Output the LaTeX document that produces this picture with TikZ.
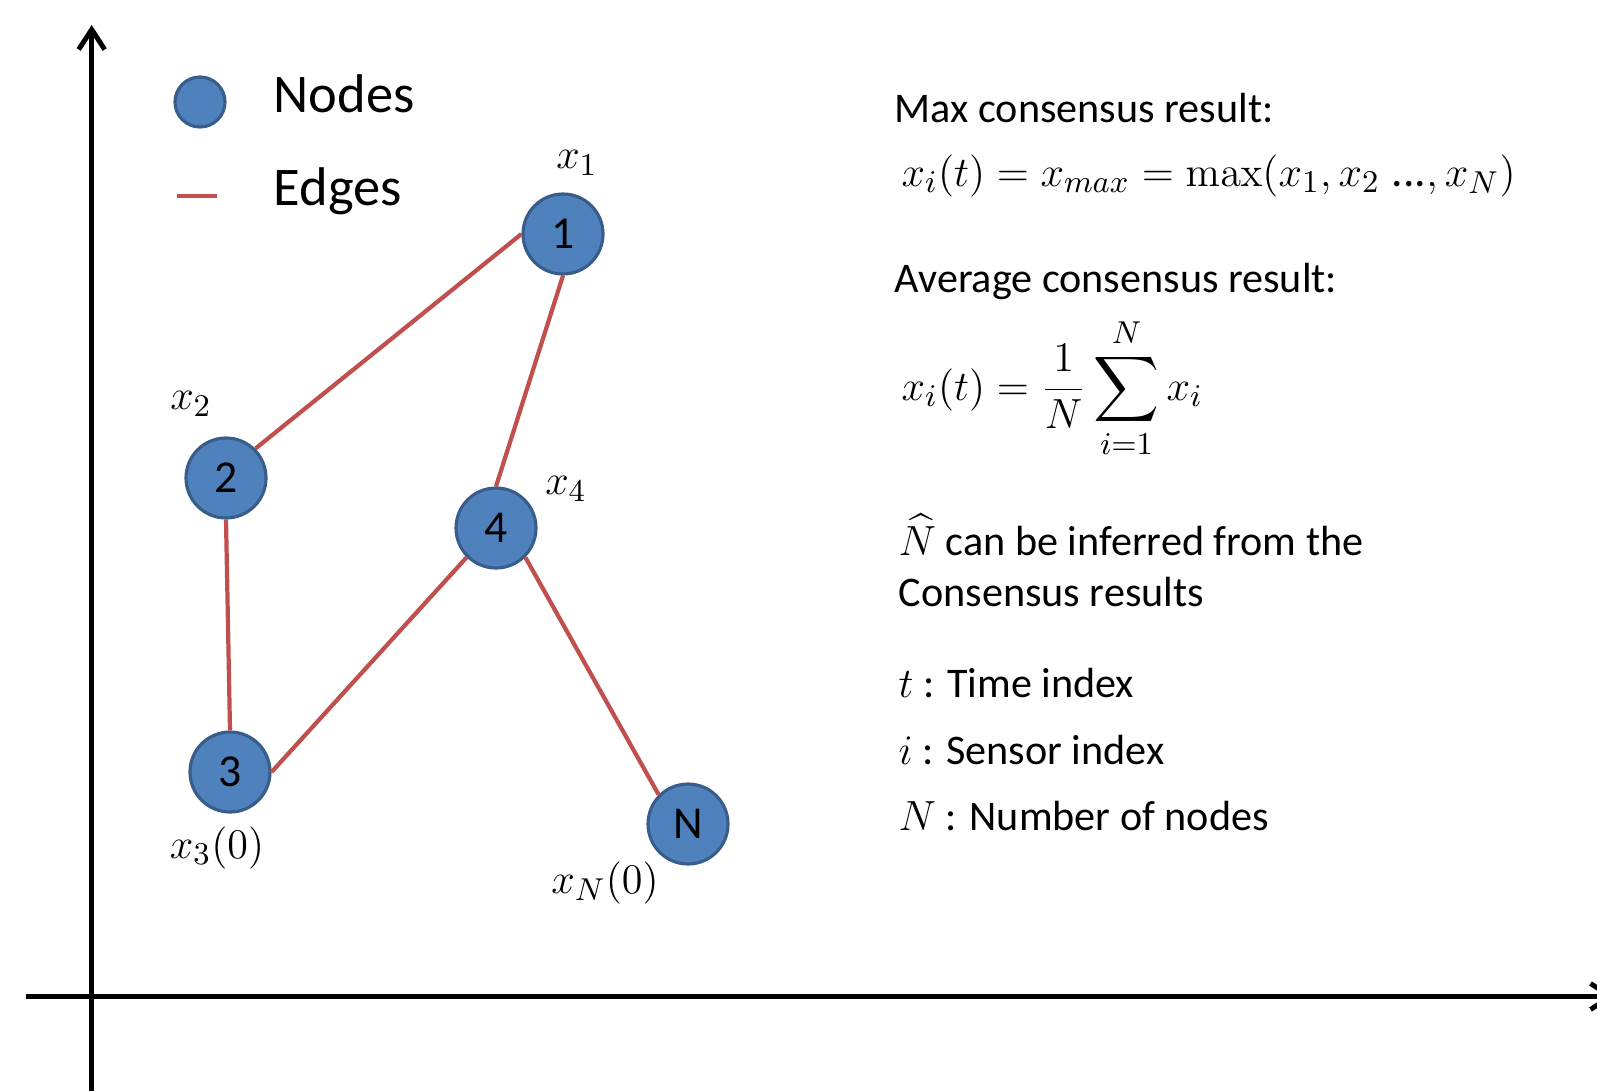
\documentclass[tikz,border=0pt]{standalone}
\usepackage{amsmath}
\usepackage{amssymb}
\usepackage[no-math]{fontspec}
\setmainfont{Carlito}
\usetikzlibrary{arrows.meta}
\definecolor{nodeblue}{RGB}{79,129,189}
\definecolor{nodeedge}{RGB}{56,93,138}
\definecolor{edgered}{RGB}{192,80,77}

\begin{document}
\begin{tikzpicture}[
    sensor/.style={circle, fill=nodeblue, draw=nodeedge, line width=0.9pt, minimum size=0.8cm, inner sep=0pt, font=\fontsize{13}{15}\selectfont},
    link/.style={edgered, line width=1.2pt},
    axis/.style={line width=1.4pt, -{Straight Barb[length=2mm,width=2.6mm]}},
    txt/.style={anchor=base west, inner sep=0pt, font=\fontsize{12}{14}\selectfont},
    lab/.style={inner sep=0pt, font=\fontsize{13}{15}\selectfont}
]
    \useasboundingbox (0,0) rectangle (15.97,10.90);
    \coordinate (ybot) at (0.917,-0.1);
    \coordinate (ytop) at (0.917,10.65);
    \coordinate (xleft) at (0.255,0.935);
    \coordinate (xright) at (16.15,0.935);
    \draw[axis] (ybot) -- (ytop);
    \draw[axis] (xleft) -- (xright);

    \node[sensor, minimum size=0.5cm] (legnode) at (2.00,9.88) {};
    \node[txt, font=\fontsize{15.5}{18}\selectfont] (legnodetext) at (2.73,9.78) {Nodes};
    \coordinate (legA) at (1.77,8.94);
    \coordinate (legB) at (2.17,8.94);
    \draw[link] (legA) -- (legB);
    \node[txt, font=\fontsize{15.5}{18}\selectfont] (legedgetext) at (2.73,8.85) {Edges};

    \node[sensor] (n1) at (5.63,8.56) {1};
    \node[sensor] (n2) at (2.26,6.12) {2};
    \node[sensor] (n3) at (2.30,3.18) {3};
    \node[sensor] (n4) at (4.96,5.62) {4};
    \node[sensor] (nN) at (6.88,2.66) {N};

    \draw[link] (n1.west) -- (n2.north east);
    \draw[link] (n1.south) -- (n4.north);
    \draw[link] (n2.south) -- (n3.north);
    \draw[link] (n3.east) -- (n4.south west);
    \draw[link] (n4.south east) -- (nN.north west);

    \node[lab] (lab1) at (5.77,9.27) {$x_1$};
    \node[lab] (lab2) at (1.91,6.86) {$x_2$};
    \node[lab] (lab4) at (5.66,6.01) {$x_4$};
    \node[lab] (lab3) at (2.17,2.42) {$x_3(0)$};
    \node[lab] (labN) at (6.05,2.07) {$x_N(0)$};

    \node[txt] (maxhead) at (8.94,9.68) {Max consensus result:};
    \node[txt, font=\fontsize{13}{15}\selectfont] (maxform) at (9.01,9.04) {$x_i(t) = x_{max} = \max(x_1, x_2\;\text{...}, x_N)$};
    \node[txt] (avghead) at (8.94,7.98) {Average consensus result:};
    \node[txt, font=\fontsize{13}{15}\selectfont] (avgform) at (9.01,6.90) {$\displaystyle x_i(t) = \frac{1}{N}\sum_{i=1}^{N} x_i$};
    \node[txt] (infer1) at (8.98,5.35) {$\widehat{N}$ can be inferred from the};
    \node[txt] (infer2) at (8.98,4.84) {Consensus results};
    \node[txt] (deft) at (8.98,3.93) {$t$ : Time index};
    \node[txt] (defi) at (8.98,3.26) {$i$ : Sensor index};
    \node[txt] (defN) at (8.98,2.60) {$N$ : Number of nodes};
\end{tikzpicture}
\end{document}
